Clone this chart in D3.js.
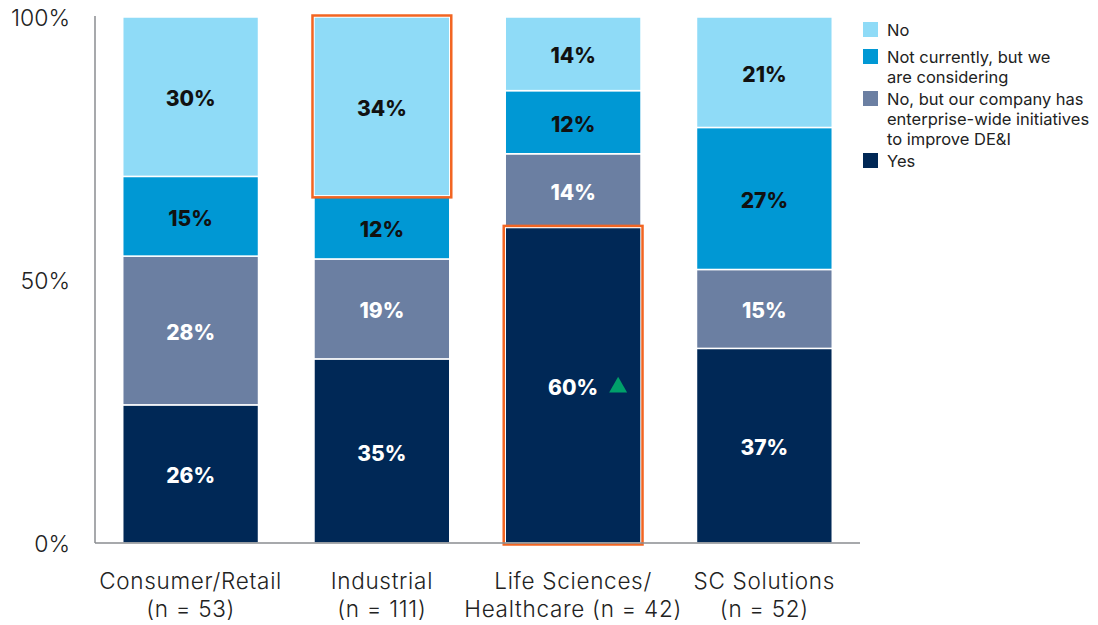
<!DOCTYPE html>
<html>
<head>
<meta charset="utf-8">
<script src="https://cdn.jsdelivr.net/npm/d3@7/dist/d3.min.js"></script>
<style>
  body { margin: 0; background: #fff; }
  svg text { font-family: Inter, "Noto Sans", sans-serif; }
</style>
</head>
<body>
<div id="chart"></div>
<script>
// categories and their x-axis labels (two lines each)
const categories = ["Consumer/Retail", "Industrial", "Life Sciences", "SC Solutions"];
const catLine1 = ["Consumer/Retail", "Industrial", "Life Sciences/", "SC Solutions"];
const catLine2 = ["(n = 53)", "(n = 111)", "Healthcare (n = 42)", "(n = 52)"];

// series, bottom to top
const seriesKeys = ["Yes", "No, but our company has", "Not currently", "No"];
const yesVals = [26, 35, 60, 37];
const noButVals = [28, 19, 14, 15];
const notCurrVals = [15, 12, 12, 27];
const noVals = [30, 34, 14, 21];

const seriesColors = ["#002856", "#6b7fa2", "#0098d4", "#8fdbf7"];
const labelColors = ["#fff", "#fff", "#111", "#111"];

// legend text, top to bottom
const legendItems = [
  { color: "#8fdbf7", lines: ["No"] },
  { color: "#0098d4", lines: ["Not currently, but we", "are considering"] },
  { color: "#6b7fa2", lines: ["No, but our company has", "enterprise-wide initiatives", "to improve DE&I"] },
  { color: "#002856", lines: ["Yes"] }
];
const legendTops = [22, 49, 91, 153];

const yTicks = [0, 0.5, 1];

// highlighted segments: [category index, series index]
const highlights = [[1, 3], [2, 0]];

const width = 1098, height = 625;
const svg = d3.select("#chart").append("svg")
  .attr("width", width).attr("height", height);

const rows = categories.map((c, i) => ({
  cat: c,
  [seriesKeys[0]]: yesVals[i],
  [seriesKeys[1]]: noButVals[i],
  [seriesKeys[2]]: notCurrVals[i],
  [seriesKeys[3]]: noVals[i]
}));

const stacked = d3.stack().keys(seriesKeys).offset(d3.stackOffsetExpand)(rows);

const x = d3.scaleBand()
  .domain(categories)
  .range([95, 860])
  .paddingInner(0.29)
  .paddingOuter(0.145);

const y = d3.scaleLinear().domain([0, 1]).range([543, 17]);

// bars
stacked.forEach((s, si) => {
  const g = svg.append("g");
  g.selectAll("rect").data(s).join("rect")
    .attr("x", d => x(d.data.cat))
    .attr("y", d => y(d[1]))
    .attr("width", x.bandwidth())
    .attr("height", d => y(d[0]) - y(d[1]))
    .attr("fill", seriesColors[si])
    .attr("stroke", "#fff")
    .attr("stroke-width", 1.5);
});

// highlight outlines
highlights.forEach(([ci, si]) => {
  const d = stacked[si][ci];
  svg.append("rect")
    .attr("x", x(d.data.cat) - 1.5)
    .attr("y", y(d[1]) - 1.5)
    .attr("width", x.bandwidth() + 3)
    .attr("height", y(d[0]) - y(d[1]) + 3)
    .attr("fill", "none")
    .attr("stroke", "#f26522")
    .attr("stroke-width", 2.5);
});

// value labels
stacked.forEach((s, si) => {
  svg.append("g").selectAll("text").data(s).join("text")
    .attr("x", d => x(d.data.cat) + x.bandwidth() / 2)
    .attr("y", d => (y(d[0]) + y(d[1])) / 2 + 2)
    .attr("dy", "0.36em")
    .attr("text-anchor", "middle")
    .attr("font-size", 21)
    .attr("font-weight", 800)
    .attr("fill", labelColors[si])
    .text(d => d.data[s.key] + "%");
});

// green up triangle next to the 60% label
{
  const d = stacked[0][2];
  const cx = x(d.data.cat) + x.bandwidth() / 2 + 45;
  const cy = (y(d[0]) + y(d[1])) / 2;
  svg.append("path")
    .attr("d", d3.symbol().type(d3.symbolTriangle).size(140)())
    .attr("transform", `translate(${cx},${cy + 2})`)
    .attr("fill", "#00a06a");
}

// axes lines
svg.append("line")
  .attr("x1", 95).attr("x2", 95).attr("y1", 16).attr("y2", 543)
  .attr("stroke", "#8a8d91").attr("stroke-width", 1.5);
svg.append("line")
  .attr("x1", 95).attr("x2", 860).attr("y1", 543).attr("y2", 543)
  .attr("stroke", "#8a8d91").attr("stroke-width", 1.5);

// y tick labels
svg.append("g").selectAll("text").data(yTicks).join("text")
  .attr("x", 70)
  .attr("y", d => y(d) + 1)
  .attr("dy", "0.36em")
  .attr("text-anchor", "end")
  .attr("font-size", 23)
  .attr("font-weight", 300)
  .attr("fill", "#222")
  .text(d => d3.format(".0%")(d));

// x category labels
const xl = svg.append("g").selectAll("text").data(categories).join("text")
  .attr("text-anchor", "middle")
  .attr("font-size", 22.5)
  .attr("font-weight", 300)
  .attr("letter-spacing", 0.7)
  .attr("fill", "#222");
xl.append("tspan")
  .attr("x", d => x(d) + x.bandwidth() / 2)
  .attr("y", 589)
  .text((d, i) => catLine1[i]);
xl.append("tspan")
  .attr("x", d => x(d) + x.bandwidth() / 2)
  .attr("y", 617)
  .text((d, i) => catLine2[i]);

// legend
legendItems.forEach((item, i) => {
  const ly = legendTops[i];
  svg.append("rect")
    .attr("x", 863).attr("y", ly)
    .attr("width", 15).attr("height", 15)
    .attr("fill", item.color);
  item.lines.forEach((t, k) => {
    svg.append("text")
      .attr("x", 887)
      .attr("y", ly + 8 + k * 20)
      .attr("dy", "0.36em")
      .attr("font-size", 16.5)
      .attr("font-weight", 400)
      .attr("fill", "#222")
      .text(t);
  });
});
</script>
</body>
</html>
